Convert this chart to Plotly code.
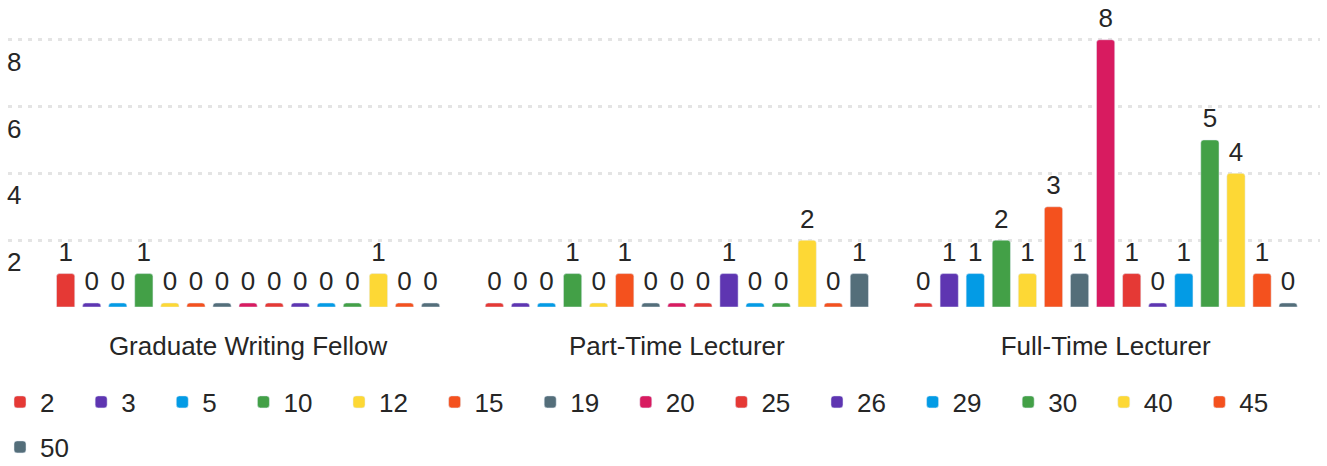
"""Roles by course-load count, grouped bar chart."""

import plotly.graph_objects as go

ROLES = ["Graduate Writing Fellow", "Part-Time Lecturer", "Full-Time Lecturer"]
SERIES = ["2", "3", "5", "10", "12", "15", "19", "20", "25", "26", "29", "30", "40", "45", "50"]

GRAD_FELLOW = [1, 0, 0, 1, 0, 0, 0, 0, 0, 0, 0, 0, 1, 0, 0]
PART_TIME = [0, 0, 0, 1, 0, 1, 0, 0, 0, 1, 0, 0, 2, 0, 1]
FULL_TIME = [0, 1, 1, 2, 1, 3, 1, 8, 1, 0, 1, 5, 4, 1, 0]

Y_TICKS = [0, 2, 4, 6, 8]
Y_TICK_TEXT = ["", "2", "4", "6", "8"]

PALETTE = ["#e53935", "#5e35b1", "#039be5", "#43a047",
           "#fdd835", "#f4511e", "#546e7a", "#d81b60"]
STUB = 0.12  # tiny visible bar for zero values
TEXT = "#262626"
FONT = "Liberation Sans, Arial, sans-serif"
PAD = "\u00a0" * 3  # widens legend entries to match the spacing of the original

W, H = 1327, 466

fig = go.Figure()
for i, name in enumerate(SERIES):
    values = [GRAD_FELLOW[i], PART_TIME[i], FULL_TIME[i]]
    color = PALETTE[i % len(PALETTE)]
    # last entry wraps onto a second legend row
    legend = "legend2" if i == len(SERIES) - 1 else "legend"
    fig.add_bar(
        x=ROLES,
        y=values,
        name=name + PAD,
        legend=legend,
        offsetgroup=str(i),
        marker={"color": color, "cornerradius": 3},
    )
    fig.add_bar(
        x=ROLES,
        y=[STUB if v == 0 else None for v in values],
        offsetgroup=str(i),
        marker={"color": color, "cornerradius": 3},
        showlegend=False,
        hoverinfo="skip",
    )
    # value labels sit above the bar (or the stub); the hidden marker adds a gap
    fig.add_scatter(
        x=ROLES,
        y=[max(v, STUB) for v in values],
        text=[str(v) for v in values],
        mode="markers+text",
        marker={"size": 8, "opacity": 0},
        textposition="top center",
        textfont={"size": 26, "color": TEXT, "family": FONT},
        offsetgroup=str(i),
        showlegend=False,
        hoverinfo="skip",
        cliponaxis=False,
    )

legend_style = {
    "orientation": "h",
    "xref": "container",
    "yref": "container",
    "x": 0,
    "xanchor": "left",
    "yanchor": "middle",
    "font": {"size": 26, "color": TEXT},
    "itemclick": False,
}

fig.update_layout(
    width=W,
    height=H,
    barmode="group",
    scattermode="group",
    bargap=0.088,
    bargroupgap=0.3,
    plot_bgcolor="white",
    paper_bgcolor="white",
    font={"family": FONT, "size": 26, "color": TEXT},
    margin={"l": 8, "r": 7, "t": 13, "b": 159, "autoexpand": False},
    legend={**legend_style, "y": 1 - 402 / H},
    legend2={**legend_style, "y": 1 - 447 / H},
)
fig.update_xaxes(
    range=[-0.56, 2.5],
    showgrid=False,
    showline=False,
    automargin=False,
    ticklabelstandoff=21,
    tickfont={"size": 26, "color": TEXT},
)
fig.update_yaxes(
    range=[0, 8.8],
    tickvals=Y_TICKS,
    ticktext=Y_TICK_TEXT,
    ticklabelposition="inside",
    ticklabelshift=22,
    ticklabelstandoff=-4,
    automargin=False,
    tickfont={"size": 26, "color": TEXT},
    showgrid=True,
    gridcolor="#e4e4e4",
    gridwidth=3,
    griddash="4px,6px",
    zeroline=False,
    showline=False,
)

# drop the browser's default body margin so the figure fills the window
fig.write_html(
    "out.html",
    config={"displayModeBar": False},
    post_script="document.body.style.margin = '0';",
)
